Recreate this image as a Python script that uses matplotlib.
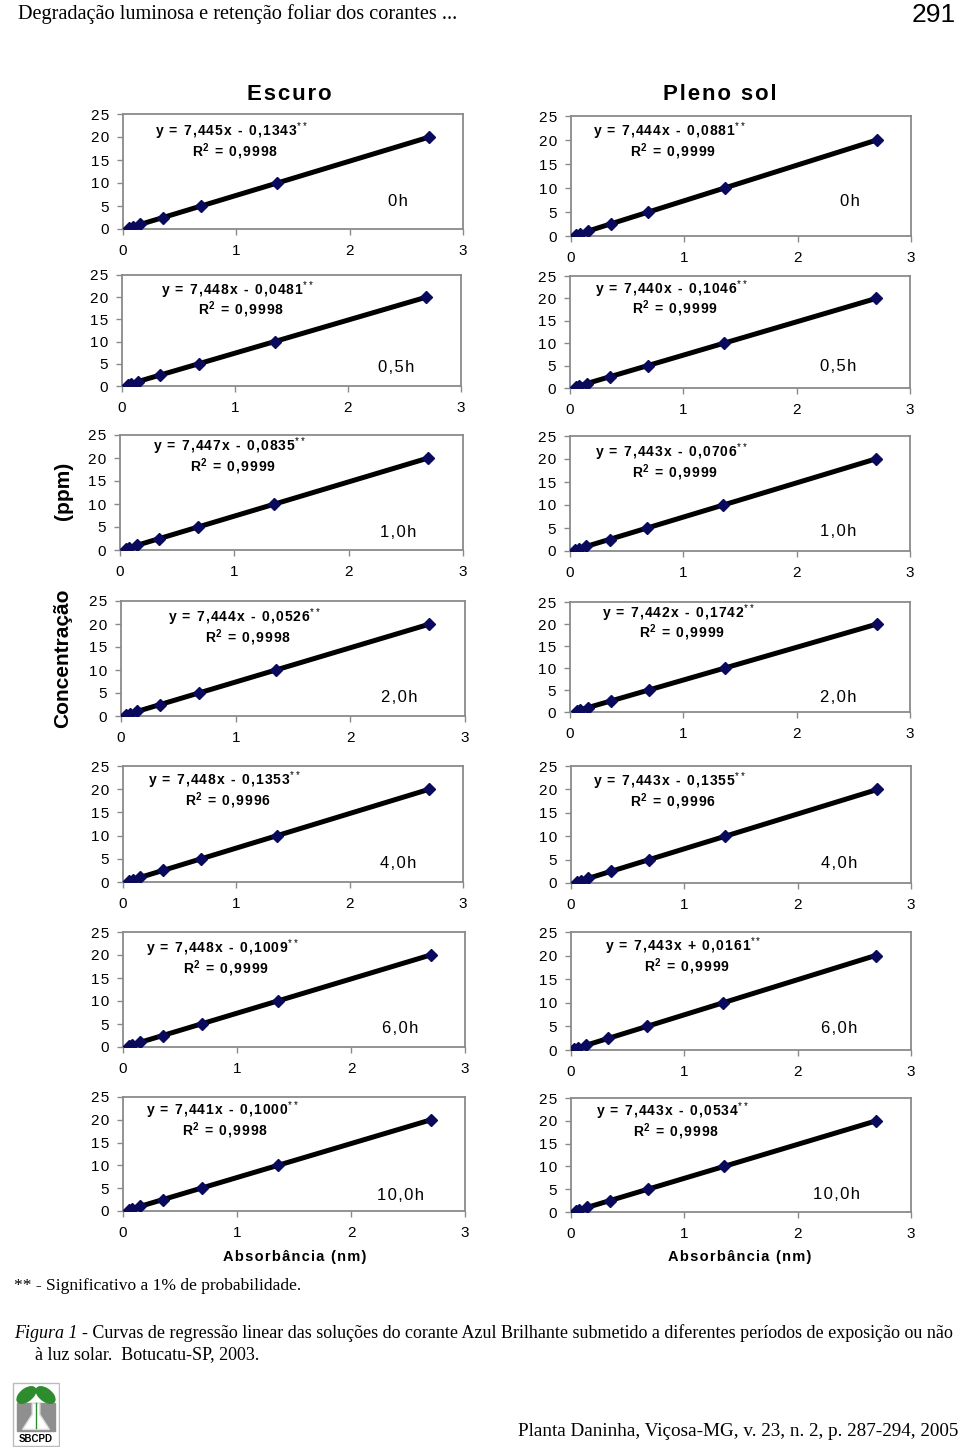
import matplotlib
matplotlib.use('Agg')
import matplotlib.pyplot as plt
from matplotlib.patches import Rectangle, Ellipse, Polygon

plt.rcParams['font.family'] = ['Liberation Sans', 'DejaVu Sans']
plt.rcParams['mathtext.fontset'] = 'custom'
plt.rcParams['mathtext.rm'] = 'Liberation Sans'
plt.rcParams['mathtext.bf'] = 'Liberation Sans:bold'

# concentrations (ppm) and absorbances
conc = [0.25, 0.5, 1.0, 2.5, 5.0, 10.0, 20.0]
abs_escuro = [
    [0.05, 0.09, 0.15, 0.35, 0.69, 1.36, 2.70],
    [0.05, 0.08, 0.14, 0.34, 0.68, 1.35, 2.69],
    [0.05, 0.08, 0.15, 0.34, 0.68, 1.35, 2.69],
    [0.04, 0.08, 0.14, 0.34, 0.68, 1.35, 2.69],
    [0.05, 0.09, 0.15, 0.35, 0.69, 1.36, 2.70],
    [0.05, 0.08, 0.15, 0.35, 0.69, 1.36, 2.70],
    [0.05, 0.08, 0.15, 0.35, 0.69, 1.36, 2.70],
]
abs_sol = [
    [0.04, 0.08, 0.15, 0.35, 0.68, 1.36, 2.70],
    [0.05, 0.08, 0.15, 0.35, 0.69, 1.36, 2.70],
    [0.04, 0.08, 0.14, 0.35, 0.68, 1.35, 2.70],
    [0.06, 0.09, 0.16, 0.36, 0.70, 1.37, 2.71],
    [0.05, 0.09, 0.15, 0.35, 0.69, 1.36, 2.70],
    [0.03, 0.06, 0.13, 0.33, 0.67, 1.34, 2.69],
    [0.04, 0.07, 0.14, 0.34, 0.68, 1.35, 2.69],
]
slope_escuro = [7.445, 7.448, 7.447, 7.444, 7.448, 7.448, 7.441]
icpt_escuro = [-0.1343, -0.0481, -0.0835, -0.0526, -0.1353, -0.1009, -0.1000]
r2_escuro = ['0,9998', '0,9998', '0,9999', '0,9998', '0,9996', '0,9999', '0,9998']
slope_sol = [7.444, 7.440, 7.443, 7.442, 7.443, 7.443, 7.443]
icpt_sol = [-0.0881, -0.1046, -0.0706, -0.1742, -0.1355, 0.0161, -0.0534]
r2_sol = ['0,9999', '0,9999', '0,9999', '0,9999', '0,9996', '0,9999', '0,9998']
horas = ['0h', '0,5h', '1,0h', '2,0h', '4,0h', '6,0h', '10,0h']
xticks = [0, 1, 2, 3]
yticks = [0, 5, 10, 15, 20, 25]

W, H = 960, 1454
fig = plt.figure(figsize=(9.6, 14.54), dpi=100)

# axes boxes in pixels: left, right, top, bottom
box_l = [(123, 463, 114, 229), (122, 461, 275, 386), (120, 463, 435, 550), (121, 465, 601, 716),
         (123, 463, 766, 882), (123, 465, 932, 1047), (123, 465, 1097, 1211)]
box_r = [(571, 911, 116, 236), (570, 910, 276, 388), (570, 910, 436, 551), (570, 910, 602, 712),
         (571, 911, 766, 883), (571, 911, 932, 1050), (571, 911, 1098, 1212)]
eq_l = [(0.32, 0.85), (0.34, 0.86), (0.32, 0.90), (0.36, 0.86), (0.30, 0.88), (0.29, 0.86), (0.29, 0.88)]
eq_r = [(0.29, 0.875), (0.30, 0.88), (0.30, 0.86), (0.32, 0.90), (0.29, 0.87), (0.33, 0.88), (0.30, 0.88)]
hr_l = [(0.81, 0.24), (0.81, 0.17), (0.81, 0.15), (0.81, 0.16), (0.81, 0.16), (0.81, 0.16), (0.81, 0.14)]
hr_r = [(0.82, 0.29), (0.79, 0.19), (0.79, 0.17), (0.79, 0.13), (0.79, 0.17), (0.79, 0.18), (0.78, 0.15)]

HS = '\u200a'  # hair space, para o espacamento entre letras


def esp(s):
    return HS.join(s)


def painel(box, x, slope, icpt, r2, hora, eqpos, hrpos):
    l, r, t, b = box
    ax = fig.add_axes([l / W, 1 - b / H, (r - l) / W, (b - t) / H])
    xs = [x[0], x[-1]]
    ax.plot(xs, [slope * v + icpt for v in xs], color='black', lw=3.6, zorder=2)
    ax.plot(x, conc, ls='none', marker='D', ms=6.5, color='#0a0a5c', zorder=3)
    ax.set_xlim(0, 3)
    ax.set_ylim(0, 25)
    ax.set_xticks(xticks)
    ax.set_xticklabels([esp(str(v)) for v in xticks])
    ax.set_yticks(yticks)
    ax.set_yticklabels([esp(str(v)) for v in yticks])
    for s in ax.spines.values():
        s.set_color('#8a8a8a')
        s.set_linewidth(1.3)
    ax.tick_params(direction='out', length=4, width=1, color='#8a8a8a', labelsize=11)
    ax.tick_params(axis='x', pad=7)
    ax.tick_params(axis='y', pad=6)
    sinal = '-' if icpt < 0 else '+'
    eq = esp('y = %sx %s %s' % (('%.3f' % slope).replace('.', ','), sinal,
                                ('%.4f' % abs(icpt)).replace('.', ','))) + '$^{**}$'
    ax.text(eqpos[0], eqpos[1], eq, transform=ax.transAxes, ha='center', va='center',
            fontsize=10, fontweight='bold')
    ax.text(eqpos[0] + 0.01, eqpos[1] - 0.175, 'R$^{\\mathbf{2}}$' + HS + esp(' = ' + r2),
            transform=ax.transAxes, ha='center', va='center', fontsize=10, fontweight='bold')
    ax.text(hrpos[0], hrpos[1], esp(hora), transform=ax.transAxes, ha='center', va='center', fontsize=12)
    return ax


for i in range(7):
    painel(box_l[i], abs_escuro[i], slope_escuro[i], icpt_escuro[i], r2_escuro[i], horas[i], eq_l[i], hr_l[i])
    painel(box_r[i], abs_sol[i], slope_sol[i], icpt_sol[i], r2_sol[i], horas[i], eq_r[i], hr_r[i])

fig.text(289 / W, 1 - 95 / H, esp('Escuro'), ha='center', va='center', fontsize=16, fontweight='bold')
fig.text(720 / W, 1 - 95 / H, esp('Pleno sol'), ha='center', va='center', fontsize=16, fontweight='bold')
fig.text(295 / W, 1 - 1257 / H, esp('Absorbância (nm)'), ha='center', va='center', fontsize=10.5, fontweight='bold')
fig.text(740 / W, 1 - 1257 / H, esp('Absorbância (nm)'), ha='center', va='center', fontsize=10.5, fontweight='bold')
fig.text(63 / W, 1 - 491 / H, '(ppm)', ha='center', va='center', rotation=90, fontsize=15, fontweight='bold')
fig.text(63 / W, 1 - 658 / H, 'Concentração', ha='center', va='center', rotation=90, fontsize=15, fontweight='bold')

serif = ['Liberation Serif', 'DejaVu Serif']
fig.text(18 / W, 1 - 14 / H, 'Degradação luminosa e retenção foliar dos corantes ...', ha='left', va='center',
         fontsize=14.6, family=serif)
fig.text(956 / W, 1 - 15 / H, '291', ha='right', va='center', fontsize=19, family=['Liberation Sans Narrow', 'Liberation Sans'])
fig.text(14 / W, 1 - 1286 / H, '** - Significativo a 1% de probabilidade.', ha='left', va='center',
         fontsize=12.5, family=serif)
fig.text(14 / W, 1 - 1333 / H, 'Figura 1', ha='left', va='center', fontsize=13, family=serif, style='italic')
fig.text(82 / W, 1 - 1333 / H, '- Curvas de regressão linear das soluções do corante Azul Brilhante submetido a diferentes períodos de exposição ou não',
         ha='left', va='center', fontsize=13, family=serif)
fig.text(35 / W, 1 - 1355 / H, 'à luz solar.  Botucatu-SP, 2003.', ha='left', va='center', fontsize=13, family=serif)
fig.text(958 / W, 1 - 1432 / H, 'Planta Daninha, Viçosa-MG, v. 23, n. 2, p. 287-294, 2005', ha='right', va='center',
         fontsize=13.8, family=serif)

# logo SBCPD
logo = fig.add_axes([12 / W, 1 - 1447 / H, 48 / W, 65 / H])
logo.set_xlim(0, 1)
logo.set_ylim(0, 1)
logo.axis('off')
logo.add_patch(Rectangle((0.02, 0.01), 0.96, 0.97, fc='white', ec='#bbbbbb', lw=1))
logo.add_patch(Rectangle((0.1, 0.25), 0.8, 0.42, color='#8f8f8f'))
logo.add_patch(Polygon([(0.42, 0.67), (0.58, 0.67), (0.58, 0.5), (0.78, 0.27), (0.22, 0.27), (0.42, 0.5)],
                       closed=True, fc='white', ec='#dddddd'))
logo.add_patch(Ellipse((0.3, 0.8), 0.42, 0.2, angle=25, color='#2e8b2e'))
logo.add_patch(Ellipse((0.7, 0.8), 0.42, 0.2, angle=-25, color='#2e8b2e'))
logo.plot([0.5, 0.5], [0.68, 0.3], color='#2e8b2e', lw=1)
logo.text(0.5, 0.13, 'SBCPD', ha='center', va='center', fontsize=7, fontweight='bold')

fig.savefig('out.png', dpi=100)
